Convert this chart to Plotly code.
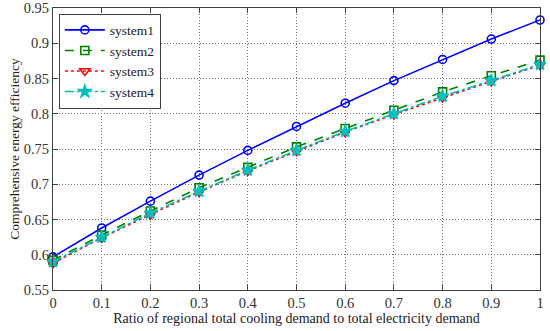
import plotly.graph_objects as go

ratio = [0, 0.1, 0.2, 0.3, 0.4, 0.5, 0.6, 0.7, 0.8, 0.9, 1.0]
system1 = [0.597, 0.638, 0.676, 0.713, 0.748, 0.782, 0.815, 0.847, 0.877, 0.906, 0.933]
system2 = [0.592, 0.628, 0.662, 0.695, 0.724, 0.753, 0.779, 0.805, 0.831, 0.854, 0.876]
system3 = [0.588, 0.624, 0.657, 0.689, 0.719, 0.747, 0.774, 0.799, 0.823, 0.846, 0.869]
system4 = [0.590, 0.625, 0.659, 0.690, 0.720, 0.748, 0.775, 0.800, 0.825, 0.847, 0.870]
names = ["system1", "system2", "system3", "system4"]
xticks = [0, 0.1, 0.2, 0.3, 0.4, 0.5, 0.6, 0.7, 0.8, 0.9, 1]
yticks = [0.55, 0.6, 0.65, 0.7, 0.75, 0.8, 0.85, 0.9, 0.95]

FONT = "Liberation Serif"

styles = [
    dict(color="#0000FF", dash="solid", symbol="circle-open", size=8),
    dict(color="#008000", dash="dash", symbol="square-open", size=8),
    dict(color="#FF0000", dash="dot", symbol="triangle-down-open", size=9),
    dict(color="#00BFBF", dash="dashdot", symbol="star", size=9),
]

fig = go.Figure()
for name, ys, st in zip(names, [system1, system2, system3, system4], styles):
    fig.add_trace(go.Scatter(
        x=ratio, y=ys, name=name, mode="lines+markers",
        line=dict(color=st["color"], dash=st["dash"], width=1.6),
        marker=dict(symbol=st["symbol"], size=st["size"], color=st["color"],
                    line=dict(color=st["color"], width=1.6)),
        cliponaxis=False,
    ))

axis_common = dict(
    showline=True, linecolor="#404040", linewidth=1, mirror="ticks",
    ticks="inside", ticklen=5, tickcolor="#404040",
    showgrid=True, gridcolor="#707070", griddash="1px,2px", gridwidth=1,
    zeroline=False, ticklabeloverflow="allow",
    tickfont=dict(family=FONT, size=14.5, color="#333333"),
)

fig.update_xaxes(range=[0, 1], tickvals=xticks, ticktext=[f"{t:g}" for t in xticks],
                 title=dict(text="Ratio of regional total cooling demand to total electricity demand",
                            font=dict(family=FONT, size=14, color="#222222"), standoff=0),
                 **axis_common)
fig.update_yaxes(range=[0.55, 0.95], tickvals=yticks, ticktext=[f"{t:g}" for t in yticks],
                 title=dict(text="Comprehensive energy efficiency",
                            font=dict(family=FONT, size=13.5, color="#222222"), standoff=0),
                 **axis_common)

fig.update_layout(
    width=550, height=331,
    margin=dict(l=53, r=10, t=8, b=41, autoexpand=False),
    plot_bgcolor="white", paper_bgcolor="white",
    font=dict(family=FONT, size=14, color="#222222"),
    legend=dict(x=0.012, y=0.98, xanchor="left", yanchor="top",
                bgcolor="white", bordercolor="#404040", borderwidth=1,
                font=dict(family=FONT, size=13.5, color="#222222"),
                tracegroupgap=0, itemwidth=40),
    showlegend=True,
)

fig.write_html("out.html", config={"displayModeBar": False},
               post_script="document.body.style.margin='0';document.body.style.padding='0';")
